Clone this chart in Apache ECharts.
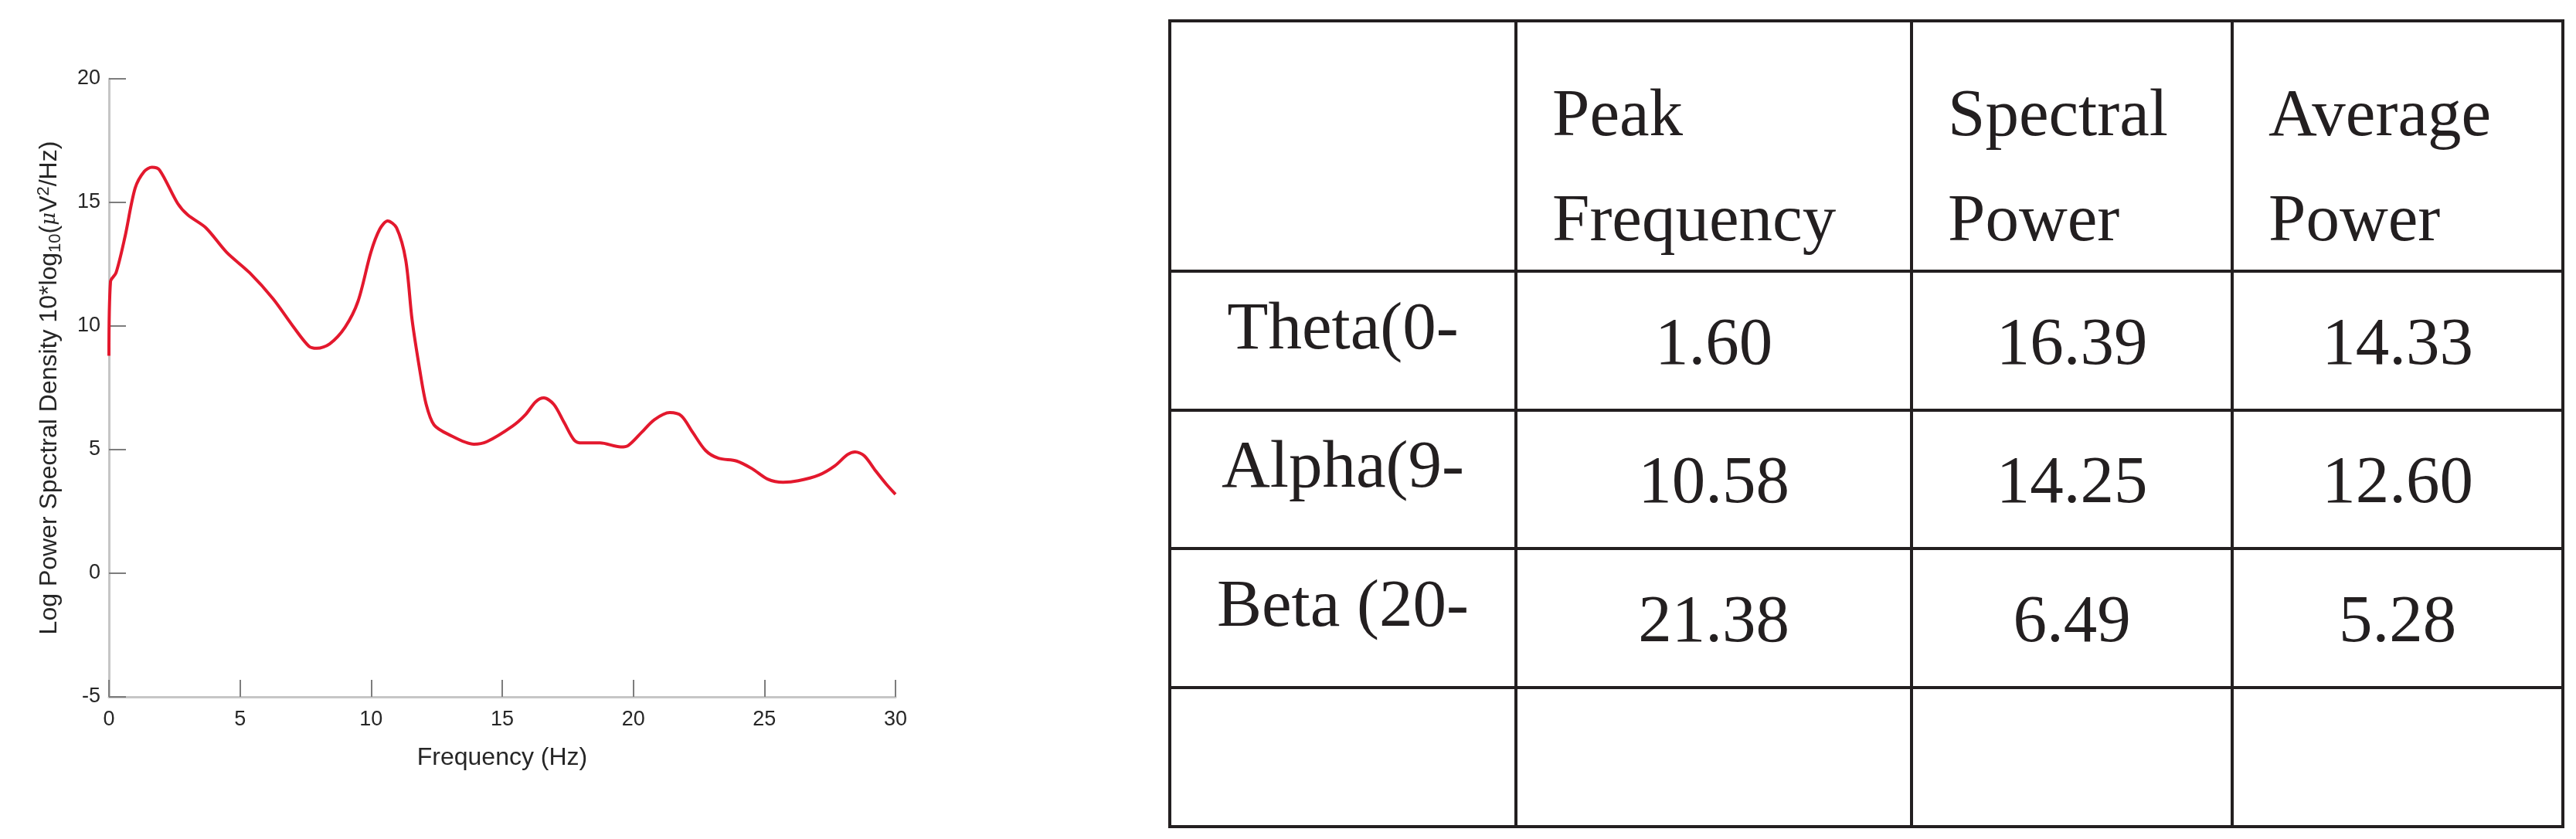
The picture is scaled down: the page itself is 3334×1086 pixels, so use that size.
<!DOCTYPE html>
<html>
<head>
<meta charset="utf-8">
<script src="https://cdn.jsdelivr.net/npm/echarts@6/dist/echarts.min.js"></script>
<style>
html,body{margin:0;padding:0;background:#fff;}
#main{width:3334px;height:1086px;}
</style>
</head>
<body>
<div id="main"></div>
<script>
// ---------- data: PSD curve ----------
const freqHz = [0, 0.06, 0.27, 0.61, 1.0, 1.35, 1.64, 1.93, 2.62, 3.01, 3.7, 4.49, 5.37, 6.26, 7.04, 7.63, 7.93, 8.42, 9.01, 9.5, 9.99, 10.33, 10.63, 10.97, 11.32, 11.56, 11.86, 12.1, 12.4, 12.94, 13.92, 14.41, 15.39, 15.89, 16.28, 16.59, 16.97, 17.36, 17.75, 18.05, 18.73, 19.52, 19.81, 20.31, 20.8, 21.39, 21.83, 22.27, 22.76, 23.25, 23.94, 24.53, 25.12, 25.71, 26.29, 27.08, 27.67, 28.17, 28.46, 28.81, 29.25, 29.65, 30.0];
const psdDb = [8.8, 11.8, 12.15, 13.6, 15.58, 16.26, 16.42, 16.31, 14.96, 14.49, 13.97, 12.98, 12.15, 11.1, 9.96, 9.18, 9.1, 9.28, 9.96, 11.0, 12.98, 13.92, 14.25, 13.97, 12.67, 10.27, 8.19, 6.83, 6.0, 5.62, 5.22, 5.32, 5.95, 6.42, 6.94, 7.09, 6.83, 6.1, 5.38, 5.27, 5.27, 5.11, 5.17, 5.69, 6.21, 6.5, 6.37, 5.69, 4.96, 4.65, 4.54, 4.23, 3.81, 3.68, 3.74, 3.97, 4.33, 4.8, 4.91, 4.75, 4.13, 3.6, 3.19];

const xTicks = [0, 5, 10, 15, 20, 25, 30];
const yTicks = [-5, 0, 5, 10, 15, 20];
const xAxisTitle = 'Frequency (Hz)';

// ---------- data: table ----------
const headerLines = [['', ''], ['Peak', 'Frequency'], ['Spectral', 'Power'], ['Average', 'Power']];
const bandLabels = ['Theta(0-', 'Alpha(9-', 'Beta (20-', ''];
const peakFrequency = [1.60, 10.58, 21.38, null];
const spectralPower = [16.39, 14.25, 6.49, null];
const averagePower = [14.33, 12.60, 5.28, null];

// ---------- layout (positions only) ----------
const colX = [1514, 1962, 2474, 2889, 3317];
const rowY = [27, 351, 531, 710, 890, 1070];
const tableFont = '87px "Liberation Serif", "Times New Roman", serif';
const ink = '#231f20';

const graphics = [];
colX.forEach(function (x) {
  graphics.push({type: 'line', shape: {x1: x, y1: rowY[0] - 2, x2: x, y2: rowY[rowY.length - 1] + 2},
    style: {stroke: ink, lineWidth: 4}, silent: true});
});
rowY.forEach(function (y) {
  graphics.push({type: 'line', shape: {x1: colX[0] - 2, y1: y, x2: colX[colX.length - 1] + 2, y2: y},
    style: {stroke: ink, lineWidth: 4}, silent: true});
});
function addText(txt, x, y, align) {
  if (!txt) return;
  graphics.push({type: 'text', x: x, y: y, silent: true,
    style: {text: txt, font: tableFont, fill: ink, align: align, verticalAlign: 'middle',
      textAlign: align, textVerticalAlign: 'middle'}});
}
// header
headerLines.forEach(function (lines, c) {
  addText(lines[0], colX[c] + 47, 152, 'left');
  addText(lines[1], colX[c] + 47, 288, 'left');
});
// body
const bodyCols = [peakFrequency, spectralPower, averagePower];
bandLabels.forEach(function (lab, r) {
  const cy = (rowY[r + 1] + rowY[r + 2]) / 2;
  addText(lab, (colX[0] + colX[1]) / 2, cy - 13, 'center');
  bodyCols.forEach(function (col, c) {
    const v = col[r];
    if (v !== null && v !== undefined) {
      addText(v.toFixed(2), (colX[c + 1] + colX[c + 2]) / 2, cy + 7, 'center');
    }
  });
});

const chart = echarts.init(document.getElementById('main'), null, {renderer: 'canvas'});
const axisFont = '"Liberation Sans", Arial, Helvetica, sans-serif';

chart.setOption({
  animation: false,
  backgroundColor: '#ffffff',
  grid: {left: 141, top: 102, width: 1018, height: 800, containLabel: false},
  xAxis: {
    type: 'value', min: xTicks[0], max: xTicks[xTicks.length - 1], interval: 5,
    name: xAxisTitle, nameLocation: 'middle', nameGap: 63,
    nameTextStyle: {fontFamily: axisFont, fontSize: 32, color: '#262626'},
    axisLine: {show: true, onZero: false, lineStyle: {color: '#c6c6c6', width: 3}},
    axisTick: {show: true, inside: true, length: 22, lineStyle: {color: '#7d7d7d', width: 2}},
    axisLabel: {fontFamily: axisFont, fontSize: 27, color: '#262626', margin: 16},
    splitLine: {show: false}
  },
  yAxis: {
    type: 'value', min: yTicks[0], max: yTicks[yTicks.length - 1], interval: 5,
    name: '{n|Log Power Spectral Density 10*log}{s|10}{n|(}{m|μ}{n|V}{p|2}{n|/Hz)}',
    nameLocation: 'middle', nameGap: 58, nameRotate: 90,
    nameTextStyle: {
      fontFamily: axisFont, fontSize: 32, color: '#262626',
      rich: {
        n: {fontFamily: axisFont, fontSize: 32, color: '#262626'},
        s: {fontFamily: axisFont, fontSize: 22, color: '#262626', padding: [15, 0, 0, 0]},
        m: {fontFamily: 'DejaVu Serif', fontStyle: 'italic', fontSize: 26, color: '#262626'},
        p: {fontFamily: axisFont, fontSize: 22, color: '#262626', padding: [0, 0, 15, 0]}
      }
    },
    axisLine: {show: true, onZero: false, lineStyle: {color: '#c6c6c6', width: 3}},
    axisTick: {show: true, inside: true, length: 22, lineStyle: {color: '#7d7d7d', width: 2}},
    axisLabel: {fontFamily: axisFont, fontSize: 27, color: '#262626', margin: 11},
    splitLine: {show: false}
  },
  series: [{
    type: 'line',
    data: freqHz.map(function (f, i) { return [f, psdDb[i]]; }),
    showSymbol: false,
    smooth: 0.3,
    lineStyle: {color: '#e3182d', width: 4},
    silent: true
  }],
  graphic: graphics
});
</script>
</body>
</html>
